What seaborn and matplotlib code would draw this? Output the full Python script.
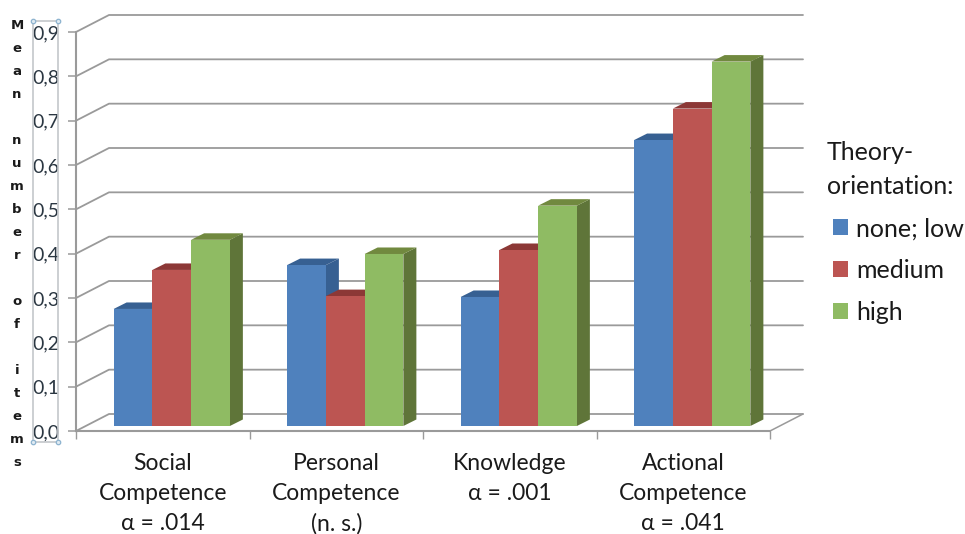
import matplotlib
matplotlib.use("Agg")
import matplotlib.pyplot as plt
from matplotlib.patches import Polygon, Rectangle
from matplotlib.lines import Line2D
import pandas as pd
import seaborn as sns

categories = ["Social\nCompetence\nα = .014", "Personal\nCompetence\n(n. s.)",
              "Knowledge\nα = .001", "Actional\nCompetence\nα = .041"]
levels = ["none; low", "medium", "high"]
none_low = [0.264, 0.363, 0.291, 0.645]
medium = [0.352, 0.293, 0.397, 0.716]
high = [0.42, 0.388, 0.497, 0.822]
y_ticks = [0.0, 0.1, 0.2, 0.3, 0.4, 0.5, 0.6, 0.7, 0.8, 0.9]
y_labels = ["0,0", "0,1", "0,2", "0,3", "0,4", "0,5", "0,6", "0,7", "0,8", "0,9"]
y_title = "Mean number of items"

front = ["#4F81BD", "#BC5552", "#8FBB63"]
top = ["#376092", "#8C3836", "#71893F"]
side = ["#376092", "#8C3836", "#5F7539"]
grid_col = "#9a9a9a"
text_col = "#1a1a1a"

W, H = 965, 534
sns.set_theme(style="white")
plt.rcParams["font.family"] = ["Lato", "DejaVu Sans"]

rows = []
for i, c in enumerate(categories):
    rows.append((c, levels[0], none_low[i]))
    rows.append((c, levels[1], medium[i]))
    rows.append((c, levels[2], high[i]))
df = pd.DataFrame(rows, columns=["category", "level", "value"])

fig = plt.figure(figsize=(W / 100, H / 100), dpi=100)
ax = fig.add_axes([76 / W, 1 - 431 / H, 694 / W, 399 / H])
ax.patch.set_alpha(0)

sns.barplot(data=df, x="category", y="value", hue="level", hue_order=levels,
            palette=front, saturation=1, width=0.67, gap=0, linewidth=0, ax=ax)
ax.set_xlim(-0.5, 3.5)
ax.set_ylim(0, 0.9)
ax.set_xlabel("")
ax.set_ylabel("")

# pixel sizes of the fake depth, in data units
px_x = 4 / 694
px_y = 0.9 / 399
back_dx, back_dy = 33 * px_x, 17 * px_y
bar_dx, bar_dy = 9 * px_x, 5 * px_y
depth_dx, depth_dy = 13 * px_x, 6.5 * px_y

# back wall and floor
for v in y_ticks:
    ax.plot([-0.5, -0.5 + back_dx, 3.5 + back_dx], [v, v + back_dy, v + back_dy],
            color=grid_col, lw=1.3, clip_on=False, zorder=1)
ax.plot([3.5, 3.5 + back_dx], [0, back_dy], color=grid_col, lw=1.1, clip_on=False, zorder=1)

# extruded bars, painted left to right
bars = sorted([p for p in ax.patches if p.get_height() > 0], key=lambda p: p.get_x())
for k, p in enumerate(bars):
    n = k % 3
    p.set_x(p.get_x() + bar_dx)
    p.set_y(bar_dy)
    x0, x1 = p.get_x(), p.get_x() + p.get_width()
    y0, y1 = p.get_y(), p.get_y() + p.get_height()
    z = 3 + 2 * k
    ax.add_patch(Polygon([(x1, y0), (x1 + depth_dx, y0 + depth_dy), (x1 + depth_dx, y1 + depth_dy), (x1, y1)],
                         facecolor=side[n], lw=0, clip_on=False, zorder=z))
    ax.add_patch(Polygon([(x0, y1), (x0 + depth_dx, y1 + depth_dy), (x1 + depth_dx, y1 + depth_dy), (x1, y1)],
                         facecolor=top[n], lw=0, clip_on=False, zorder=z))
    p.set_zorder(z + 1)
    p.set_clip_on(False)

# axes
sns.despine(ax=ax, top=True, right=True)
for s in ["left", "bottom"]:
    ax.spines[s].set_color(grid_col)
    ax.spines[s].set_linewidth(1.5)
ax.set_yticks(y_ticks)
ax.set_yticklabels(y_labels)
ax.set_xticks([-0.5, 0.5, 1.5, 2.5, 3.5], minor=True)
ax.tick_params(axis="y", left=True, length=6, width=1.1, color=grid_col, pad=6,
               labelsize=14, labelcolor="#2b3742")
ax.tick_params(axis="x", which="minor", bottom=True, length=5.5, width=1, color=grid_col)
ax.tick_params(axis="x", which="major", bottom=False, length=0, pad=16,
               labelsize=16.5, labelcolor=text_col)
for t in ax.get_xticklabels():
    t.set_linespacing(1.52)
    t.set_verticalalignment("top")

# legend
sns.move_legend(ax, "upper left", bbox_to_anchor=(804.5 / W, 1 - 118 / H),
                bbox_transform=fig.transFigure, title="Theory-\norientation:", frameon=False,
                fontsize=18, title_fontsize=18, handlelength=0.84, handleheight=0.6,
                handletextpad=0.32, labelspacing=0.75, alignment="left", borderpad=0.4)
leg = ax.get_legend()
leg.get_title().set_linespacing(1.63)
leg.get_title().set_color(text_col)
for t in leg.get_texts():
    t.set_color(text_col)
for h in leg.legend_handles:
    h.set_x(4.3)
    h.set_width(10.8)

# selection frame left round the tick labels
fig.add_artist(Rectangle((33 / W, 1 - 442 / H), 25 / W, 421 / H, transform=fig.transFigure,
                         fill=False, edgecolor="#c3c7cb", lw=1.2))
for hx in (33, 58):
    for hy in (21, 442):
        fig.add_artist(Line2D([hx / W], [1 - hy / H], marker="o", ms=3.2, mfc="#dfeaf2",
                              mec="#8db3cf", mew=0.9, transform=fig.transFigure))

# stacked axis title
fig.text(17 / W, 1 - 244 / H, "\n".join(y_title), ha="center", va="center", fontsize=9.5,
         fontweight="bold", family="DejaVu Sans", linespacing=2.0, color=text_col)

fig.savefig("out.png", dpi=100)
